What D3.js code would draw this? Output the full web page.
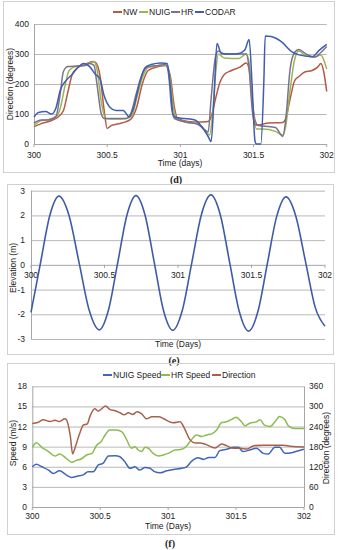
<!DOCTYPE html>
<html><head><meta charset="utf-8">
<script src="https://cdn.jsdelivr.net/npm/d3@7"></script>
<style>body{margin:0;background:#fff}svg{display:block;font-family:"Liberation Sans",Arial,sans-serif}</style>
</head><body>
<svg id="c" width="341" height="550"></svg>
<script>
// ---------- Panel (d): Direction (degrees) ----------
const dTicksX = [300, 300.5, 301, 301.5, 302];
const dTicksY = [0, 100, 200, 300, 400];
const nwT  = [300,300.05,300.1,300.15,300.2,300.23,300.26,300.3,300.35,300.4,300.42,300.45,300.48,300.5,300.53,300.6,300.66,300.7,300.74,300.78,300.85,300.9,300.93,300.96,300.98,301.05,301.12,301.19,301.21,301.24,301.27,301.3,301.35,301.41,301.45,301.47,301.49,301.51,301.53,301.6,301.7,301.72,301.75,301.78,301.81,301.85,301.9,301.94,301.96,301.98,302];
const nwV  = [58,68,75,85,110,170,230,255,265,275,272,230,110,52,62,70,82,120,200,245,258,262,230,120,85,75,73,75,90,150,205,232,245,257,270,250,150,80,63,70,72,85,150,210,225,240,245,257,268,240,175];
const nuigT = [300,300.05,300.1,300.15,300.18,300.21,300.24,300.28,300.33,300.38,300.41,300.43,300.46,300.49,300.55,300.63,300.67,300.7,300.74,300.78,300.85,300.91,300.93,300.95,300.98,301.05,301.12,301.17,301.2,301.22,301.24,301.26,301.3,301.4,301.45,301.47,301.49,301.52,301.56,301.65,301.7,301.72,301.75,301.78,301.81,301.86,301.92,301.96,301.98,302];
const nuigV = [62,78,82,90,120,190,245,258,262,270,274,250,140,85,83,85,95,150,220,255,262,262,220,130,82,72,68,45,30,100,230,300,287,285,300,270,150,50,50,42,30,60,180,280,310,293,290,297,280,250];
const hrT = [300,300.05,300.1,300.15,300.18,300.2,300.23,300.3,300.35,300.38,300.41,300.43,300.46,300.48,300.55,300.63,300.66,300.7,300.74,300.78,300.85,300.9,300.92,300.94,300.96,301.05,301.12,301.16,301.19,301.21,301.24,301.26,301.3,301.4,301.45,301.47,301.49,301.51,301.56,301.65,301.7,301.72,301.75,301.78,301.81,301.86,301.92,301.96,302];
const hrV = [70,80,80,92,170,240,258,260,262,268,262,200,100,85,85,85,100,170,235,258,262,265,230,120,85,72,65,50,40,150,290,310,300,300,300,250,120,65,60,55,25,80,250,305,315,300,290,305,325];
const codarT = [300,300.03,300.08,300.12,300.15,300.18,300.22,300.26,300.3,300.34,300.38,300.42,300.45,300.48,300.52,300.56,300.61,300.65,300.68,300.72,300.76,300.8,300.87,300.91,300.93,300.95,300.97,301.03,301.1,301.15,301.19,301.21,301.23,301.25,301.28,301.35,301.4,301.44,301.47,301.49,301.51,301.52,301.55,301.57,301.58,301.62,301.69,301.76,301.81,301.9,301.95,302];
const codarV = [90,105,108,100,120,180,212,232,255,268,258,232,218,160,122,112,112,90,120,200,255,265,270,268,200,100,88,85,80,55,25,8,150,335,302,300,302,313,348,200,10,0,0,200,360,358,341,308,297,291,313,332];

// ---------- Panel (e): Elevation (m) ----------
const eTicksY = [-3, -2, -1, 0, 1, 2, 3];
const elevT = [300,300.065,300.1275,300.19,300.259,300.3275,300.396,300.465,300.527,300.59,300.652,300.714,300.7765,300.839,300.9015,300.964,301.029,301.094,301.159,301.224,301.288,301.352,301.416,301.48,301.544,301.6075,301.671,301.735,301.801,301.8675,301.934,302];
const elevV = [-1.92,0.09,1.99,2.78,1.99,0.08,-1.84,-2.63,-1.83,0.09,2.0,2.80,2.0,0.08,-1.85,-2.65,-1.85,0.09,2.03,2.83,2.02,0.08,-1.87,-2.68,-1.88,0.04,1.95,2.75,1.98,0.13,-1.73,-2.48];

// ---------- Panel (f): Speed / Direction ----------
const fTicksSpeed = [0, 3, 6, 9, 12, 15, 18];
const fTicksDir = [0, 60, 120, 180, 240, 300, 360];
const nuigSpT = [300,300.03,300.07,300.12,300.155,300.2,300.25,300.29,300.33,300.375,300.41,300.45,300.486,300.52,300.56,300.61,300.645,300.68,300.72,300.756,300.79,300.83,300.866,300.9,300.94,300.99,301.04,301.1,301.136,301.17,301.22,301.26,301.3,301.345,301.38,301.43,301.48,301.517,301.55,301.6,301.65,301.7,301.737,301.786,301.82,301.86,301.91,301.96,302];
const nuigSpV = [6.0,6.37,6.0,5.5,5.0,5.4,4.8,4.4,4.6,4.8,5.27,5.27,6.27,6.5,7.6,7.66,7.5,6.77,5.77,6.0,5.5,5.9,5.77,5.27,5.1,5.4,5.6,5.77,6.0,6.77,7.36,7.1,7.4,7.4,8.4,8.6,8.9,8.9,8.26,8.5,8.76,8.0,7.9,8.9,8.9,8.0,8.1,8.4,8.6];
const hrSpT = [300,300.03,300.07,300.12,300.167,300.2,300.25,300.29,300.33,300.36,300.4,300.44,300.47,300.51,300.535,300.57,300.62,300.66,300.69,300.73,300.756,300.78,300.805,300.83,300.854,300.89,300.93,300.965,301,301.05,301.1,301.136,301.17,301.21,301.247,301.283,301.32,301.357,301.394,301.43,301.48,301.5,301.54,301.566,301.6,301.65,301.676,301.71,301.75,301.786,301.82,301.86,301.885,301.934,302];
const hrSpV = [8.9,9.6,8.9,8.26,7.6,7.9,7.26,6.67,7.0,7.16,7.76,8.0,9.1,9.85,10.7,11.5,11.5,11.2,10.25,8.76,9.0,8.5,8.26,8.9,8.76,8.0,7.6,7.76,8.0,8.5,8.6,9.1,10.0,10.75,10.5,10.75,10.9,11.5,12.6,12.7,13.2,13.4,12.7,12.1,12.5,12.7,13.0,12.2,12.0,12.7,13.5,13.0,12.1,11.7,11.7];
const dirT = [300,300.044,300.08,300.13,300.167,300.2,300.24,300.25,300.28,300.297,300.31,300.35,300.375,300.405,300.425,300.46,300.486,300.51,300.54,300.57,300.61,300.645,300.675,300.707,300.74,300.77,300.805,300.84,300.88,300.93,300.965,301,301.04,301.087,301.124,301.16,301.2,301.234,301.28,301.345,301.394,301.43,301.48,301.53,301.58,301.63,301.7,301.774,301.85,301.9,302];
const dirV = [249,253,260,255,259,255,263,261,211,158,171,221,244,248,271,293,286,293,301,291,287,281,275,281,276,284,278,263,269,269,264,256,251,254,231,201,191,191,186,176,188,183,175,175,173,183,184,184,184,181,179];

const svg = d3.select("#c");
const FONT = "Liberation Sans, Arial, sans-serif";
const GRID = "#a6a6a6";

function box(x, y, w, h) {
  svg.append("rect").attr("x", x + 0.5).attr("y", y + 0.5).attr("width", w).attr("height", h)
    .attr("fill", "none").attr("stroke", "#d0d0d0").attr("stroke-width", 1);
}
function text(x, y, s, opts = {}) {
  const t = svg.append("text").attr("x", x).attr("y", y).text(s)
    .attr("font-size", opts.size || 8.5).attr("fill", opts.fill || "#222")
    .attr("font-family", opts.family || FONT)
    .attr("text-anchor", opts.anchor || "middle");
  if (opts.weight) t.attr("font-weight", opts.weight);
  if (opts.rotate) t.attr("transform", `rotate(-90,${x},${y})`);
  return t;
}
function line(x, y, xs, ys, color, w = 1.5) {
  const pts = xs.map((t, i) => [t, ys[i]]);
  svg.append("path").datum(pts)
    .attr("d", d3.line().x(d => x(d[0])).y(d => y(d[1])).curve(d3.curveMonotoneX))
    .attr("fill", "none").attr("stroke", color).attr("stroke-width", w)
    .attr("stroke-linejoin", "round");
}
function legend(items, y) {
  items.forEach(it => {
    svg.append("line").attr("x1", it.x).attr("x2", it.x + 9).attr("y1", y).attr("y2", y)
      .attr("stroke", it.c).attr("stroke-width", 2);
    text(it.x + 10, y + 3, it.n, { anchor: "start", size: 8.5 });
  });
}

// ===== Panel d =====
{
  box(3, 1, 331, 171);
  const x = d3.scaleLinear().domain([300, 302]).range([34, 326.7]);
  const y = d3.scaleLinear().domain([0, 400]).range([144, 24]);
  dTicksY.forEach(v => {
    if (v > 0) svg.append("line").attr("x1", 34).attr("x2", 326.7).attr("y1", y(v) + 0.5).attr("y2", y(v) + 0.5).attr("stroke", GRID).attr("stroke-width", 0.8);
    text(29, y(v) + 3, v, { anchor: "end" });
  });
  svg.append("line").attr("x1", 34).attr("x2", 326.7).attr("y1", y(0) + 0.5).attr("y2", y(0) + 0.5).attr("stroke", GRID);
  svg.append("line").attr("x1", 34.5).attr("x2", 34.5).attr("y1", y(400)).attr("y2", y(0)).attr("stroke", GRID);
  dTicksX.forEach(t => {
    svg.append("line").attr("x1", x(t)).attr("x2", x(t)).attr("y1", y(0)).attr("y2", y(0) + 3).attr("stroke", GRID);
    text(x(t), 157.5, t);
  });
  line(x, y, nwT, nwV, "#B45A45");
  line(x, y, nuigT, nuigV, "#9CB552");
  line(x, y, hrT, hrV, "#7C7091");
  line(x, y, codarT, codarV, "#3E5DB3");
  text(180, 166, "Time (days)");
  text(13, 84, "Direction (degrees)", { rotate: true });
  legend([{ x: 113, n: "NW", c: "#B45A45" }, { x: 139, n: "NUIG", c: "#9CB552" },
          { x: 171, n: "HR", c: "#7C7091" }, { x: 195, n: "CODAR", c: "#3E5DB3" }], 12);
  text(176, 182.5, "(d)", { family: "Liberation Serif, serif", weight: "bold", size: 10 });
}

// ===== Panel e =====
{
  box(7, 184, 326, 170);
  const x = d3.scaleLinear().domain([300, 302]).range([31, 325]);
  const y = d3.scaleLinear().domain([-3, 3]).range([339, 190.7]);
  eTicksY.forEach(v => {
    svg.append("line").attr("x1", 31).attr("x2", 325).attr("y1", y(v) + 0.5).attr("y2", y(v) + 0.5).attr("stroke", GRID).attr("stroke-width", v === 0 ? 1 : 0.8);
    text(25, y(v) + 3, v, { anchor: "end" });
  });
  svg.append("line").attr("x1", 31.5).attr("x2", 31.5).attr("y1", y(3)).attr("y2", y(-3)).attr("stroke", GRID);
  dTicksX.forEach(t => {
    svg.append("line").attr("x1", x(t)).attr("x2", x(t)).attr("y1", y(0)).attr("y2", y(0) + 3).attr("stroke", GRID);
    text(x(t), 277.5, t);
  });
  line(x, y, elevT, elevV, "#3F5BA8", 1.6);
  text(178, 347, "Time (Days)");
  text(16, 268, "Elevation (m)", { rotate: true });
  text(174, 363.5, "(e)", { family: "Liberation Serif, serif", weight: "bold", size: 10 });
}

// ===== Panel f =====
{
  box(7, 363, 327, 171);
  const x = d3.scaleLinear().domain([300, 302]).range([32.3, 304]);
  const yS = d3.scaleLinear().domain([0, 18]).range([507, 386.3]);
  const yD = d3.scaleLinear().domain([0, 360]).range([507, 386.3]);
  fTicksSpeed.forEach((v, i) => {
    if (v > 0) svg.append("line").attr("x1", 32.3).attr("x2", 304).attr("y1", yS(v) + 0.5).attr("y2", yS(v) + 0.5).attr("stroke", GRID).attr("stroke-width", 0.8);
    text(27, yS(v) + 3, v, { anchor: "end" });
    text(309, yD(fTicksDir[i]) + 3, fTicksDir[i], { anchor: "start" });
  });
  svg.append("line").attr("x1", 32.3).attr("x2", 304).attr("y1", yS(0) + 0.5).attr("y2", yS(0) + 0.5).attr("stroke", GRID);
  svg.append("line").attr("x1", 32.8).attr("x2", 32.8).attr("y1", yS(18)).attr("y2", yS(0)).attr("stroke", GRID);
  svg.append("line").attr("x1", 304.5).attr("x2", 304.5).attr("y1", yS(18)).attr("y2", yS(0)).attr("stroke", GRID);
  dTicksX.forEach(t => {
    svg.append("line").attr("x1", x(t)).attr("x2", x(t)).attr("y1", yS(0)).attr("y2", yS(0) + 3).attr("stroke", GRID);
    text(x(t), 519, t);
  });
  line(x, yS, nuigSpT, nuigSpV, "#4066B5");
  line(x, yS, hrSpT, hrSpV, "#8DBB4E");
  line(x, yD, dirT, dirV, "#A9604A");
  text(168, 529, "Time (Days)");
  text(16, 443, "Speed (m/s)", { rotate: true });
  text(329, 448, "Direction (degrees)", { rotate: true });
  legend([{ x: 103, n: "NUIG Speed", c: "#4066B5" }, { x: 161, n: "HR Speed", c: "#8DBB4E" },
          { x: 212, n: "Direction", c: "#A9604A" }], 375);
  text(170, 546.5, "(f)", { family: "Liberation Serif, serif", weight: "bold", size: 10 });
}
</script>
</body></html>
